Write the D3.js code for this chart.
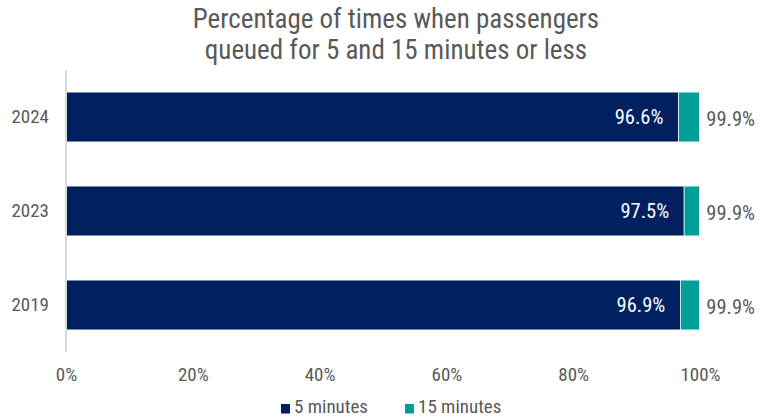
<!DOCTYPE html>
<html><head><meta charset="utf-8">
<script src="https://cdn.jsdelivr.net/npm/d3@7"></script>
<style>
body{margin:0;background:#fff;}
text{font-family:"Liberation Sans Narrow","Roboto Condensed","Open Sans",sans-serif;}
</style></head><body>
<svg id="c" width="761" height="419"></svg>
<script>
const years = ["2024","2023","2019"];
const fiveMin = [96.6, 97.5, 96.9];
const fifteenMin = [99.9, 99.9, 99.9];
const xTicks = [0,20,40,60,80,100];
const seriesNames = ["5 minutes","15 minutes"];
const colors = ["#002060","#009E96"];

const svg = d3.select("#c");
const x = d3.scaleLinear().domain([0,100]).range([66,700]);
const y = d3.scaleBand().domain(years).range([70,352]).paddingInner(0.47).paddingOuter(0.235);

svg.append("text").attr("x",396).attr("y",28).attr("text-anchor","middle")
  .attr("font-size",27).attr("fill","#595959").text("Percentage of times when passengers");
svg.append("text").attr("x",396).attr("y",59).attr("text-anchor","middle")
  .attr("font-size",27).attr("fill","#595959").text("queued for 5 and 15 minutes or less");

const rows = years.map((yr,i)=>({yr, a:fiveMin[i], b:fifteenMin[i]}));

svg.selectAll(".b1").data(rows).enter().append("rect")
  .attr("x",x(0)).attr("y",d=>y(d.yr)).attr("width",d=>x(d.a)-x(0)).attr("height",y.bandwidth())
  .attr("fill",colors[0]).attr("stroke","#fff").attr("stroke-width",0.7);
svg.selectAll(".b2").data(rows).enter().append("rect")
  .attr("x",d=>x(d.a)).attr("y",d=>y(d.yr)).attr("width",d=>x(d.b)-x(d.a)).attr("height",y.bandwidth())
  .attr("fill",colors[1]).attr("stroke","#fff").attr("stroke-width",0.7);

svg.selectAll(".l1").data(rows).enter().append("text")
  .attr("x",d=>x(d.a)-15).attr("y",d=>y(d.yr)+y.bandwidth()/2).attr("dy","0.36em")
  .attr("text-anchor","end").attr("font-size",20.5).attr("fill","#fff").text(d=>d.a.toFixed(1)+"%");
svg.selectAll(".l2").data(rows).enter().append("text")
  .attr("x",d=>x(d.b)+7).attr("y",d=>y(d.yr)+y.bandwidth()/2).attr("dy","0.42em")
  .attr("text-anchor","start").attr("font-size",20.5).attr("fill","#595959").text(d=>d.b.toFixed(1)+"%");

// y axis
const ya = svg.append("g").attr("transform","translate(66,0)").call(d3.axisLeft(y).tickSize(0).tickPadding(17));
ya.select(".domain").attr("stroke","#d9d9d9").attr("stroke-width",2).attr("d","M0,70V352");
ya.selectAll("text").attr("font-size",19).attr("fill","#595959").attr("font-family",null);

// x axis
const xa = svg.append("g").attr("transform","translate(0,352)").call(d3.axisBottom(x).tickValues(xTicks).tickSize(0).tickPadding(16).tickFormat(d=>d+"%"));
xa.select(".domain").remove();
xa.selectAll("text").attr("font-size",19).attr("fill","#595959").attr("font-family",null);

// legend
const leg = svg.append("g");
const lx = [281,405];
seriesNames.forEach((n,i)=>{
  leg.append("rect").attr("x",lx[i]).attr("y",404).attr("width",9).attr("height",9.5).attr("fill",colors[i]);
  leg.append("text").attr("x",lx[i]+13).attr("y",413).attr("font-size",19).attr("fill","#595959").text(n);
});
</script></body></html>
